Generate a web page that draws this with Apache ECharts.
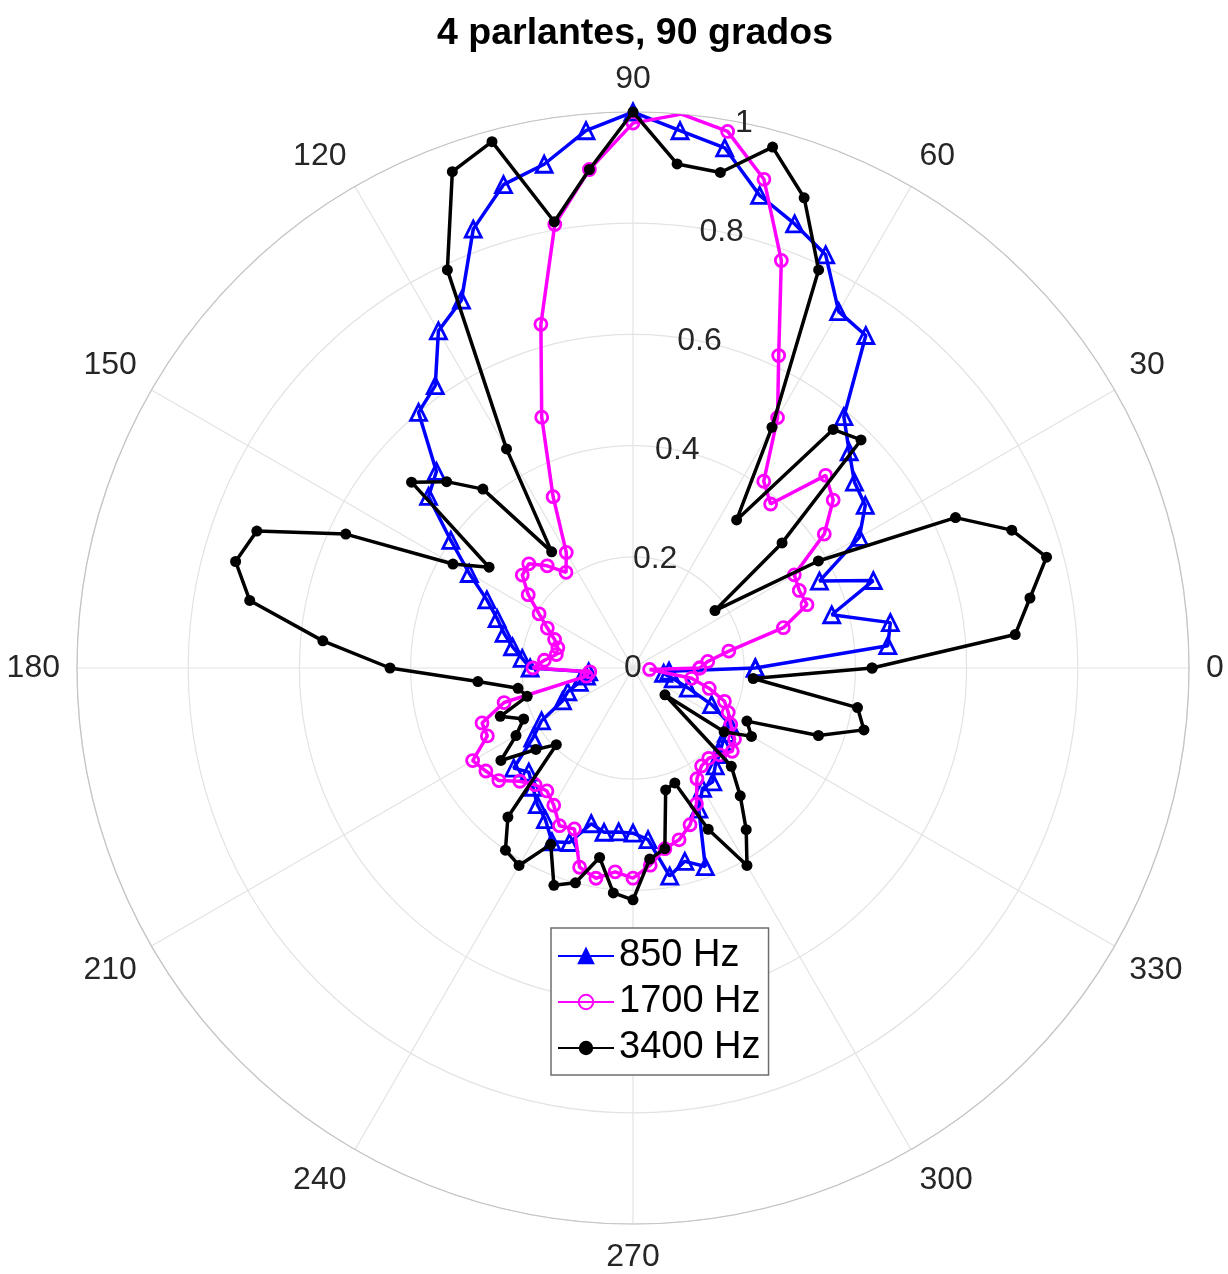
<!DOCTYPE html>
<html>
<head>
<meta charset="utf-8">
<script src="https://cdn.jsdelivr.net/npm/echarts@6/dist/echarts.min.js"></script>
<style>
  html, body { margin: 0; padding: 0; background: #fff; }
  #chart { width: 1228px; height: 1274px; }
</style>
</head>
<body>
<div id="chart"></div>
<script>
// angulos de medicion (grados)
var angles = [0, 5, 10, 15, 20, 25, 30, 35, 40, 45, 50, 55, 60, 65, 70, 75, 80, 85,
  90, 95, 100, 105, 110, 115, 120, 125, 130, 135, 140, 145, 150, 155, 160, 165, 170, 175,
  180, 185, 190, 195, 200, 205, 210, 215, 220, 225, 230, 235, 240, 245, 250, 255, 260, 265,
  270, 275, 280, 285, 290, 295, 300, 305, 310, 315, 320, 325, 330, 335, 340, 345, 350, 355];

var seriesNames = ['850 Hz', '1700 Hz', '3400 Hz'];

var r850 = [0.22, 0.46, 0.47, 0.37, 0.46, 0.37, 0.47, 0.51, 0.52, 0.55, 0.59, 0.73, 0.74, 0.82, 0.85, 0.88, 0.95, 0.97,
  1.0, 0.97, 0.92, 0.90, 0.84, 0.73, 0.70, 0.62, 0.60, 0.50, 0.48, 0.40, 0.34, 0.29, 0.26, 0.24, 0.22, 0.20,
  0.185, 0.08, 0.085, 0.10, 0.125, 0.14, 0.19, 0.22, 0.28, 0.265, 0.28, 0.30, 0.315, 0.345, 0.334, 0.29, 0.30, 0.296,
  0.297, 0.31, 0.38, 0.36, 0.38, 0.28, 0.25, 0.25, 0.23, 0.22, 0.21, 0.205, 0.20, 0.156, 0.106, 0.075, 0.056, 0.065];

var r1700 = [0.12, 0.135, 0.175, 0.28, 0.333, 0.33, 0.335, 0.42, 0.47, 0.49, 0.385, 0.41, 0.52, 0.62, 0.78, 0.91, 0.98, 1.0,
  0.98, 0.90, 0.81, 0.64, 0.48, 0.34, 0.24, 0.21, 0.24, 0.265, 0.26, 0.23, 0.195, 0.17, 0.15, 0.14, 0.14, 0.16,
  0.18, 0.078, 0.085, 0.24, 0.289, 0.289, 0.333, 0.323, 0.315, 0.288, 0.274, 0.27, 0.285, 0.313, 0.308, 0.371, 0.384, 0.368,
  0.378, 0.356, 0.33, 0.32, 0.30, 0.27, 0.23, 0.215, 0.212, 0.221, 0.233, 0.223, 0.203, 0.189, 0.175, 0.142, 0.107, 0.03];

var r3400 = [0.43, 0.69, 0.725, 0.77, 0.725, 0.64, 0.385, 0.18, 0.35, 0.58, 0.56, 0.325, 0.50, 0.79, 0.90, 0.97, 0.905, 0.91,
  1.0, 0.90, 0.815, 0.98, 0.95, 0.79, 0.455, 0.255, 0.42, 0.474, 0.52, 0.316, 0.374, 0.57, 0.72, 0.74, 0.70, 0.56,
  0.437, 0.28, 0.21, 0.197, 0.254, 0.217, 0.243, 0.29, 0.228, 0.195, 0.35, 0.40, 0.41, 0.35, 0.416, 0.40, 0.346, 0.406,
  0.417, 0.345, 0.33, 0.227, 0.22, 0.32, 0.41, 0.355, 0.30, 0.25, 0.075, 0.20, 0.246, 0.226, 0.355, 0.43, 0.41, 0.217];

var angleTicks = ['0', '30', '60', '90', '120', '150', '180', '210', '240', '270', '300', '330'];
var radiusTicks = ['0', '0.2', '0.4', '0.6', '0.8', '1'];

var FONT = 'Liberation Sans';
var CENTER = [633, 668];
var RADIUS = 556;

// curva cerrada: [r, angulo] y se repite el primer punto
function polarPairs(r) {
  var out = r.map(function (v, i) { return [v, angles[i]]; });
  out.push([r[0], 360]);
  return out;
}

var chart = echarts.init(document.getElementById('chart'));

chart.setOption({
  backgroundColor: '#fff',
  animation: false,
  title: {
    text: '4 parlantes, 90 grados',
    left: 432,
    top: 10,
    textStyle: { fontFamily: FONT, fontSize: 37.5, fontWeight: 'bold', color: '#000' }
  },
  legend: {
    orient: 'vertical',
    left: 551,
    top: 928,
    padding: [9, 8, 8, 6],
    itemWidth: 56,
    itemHeight: 18,
    itemGap: 8,
    borderColor: '#6e6e6e',
    borderWidth: 1.5,
    backgroundColor: '#fff',
    textStyle: { fontFamily: FONT, fontSize: 38, color: '#000' },
    data: [
      { name: seriesNames[0], itemStyle: { color: '#0000ff', borderColor: '#0000ff' } },
      { name: seriesNames[1] },
      { name: seriesNames[2] }
    ]
  },
  polar: [
    { center: CENTER, radius: RADIUS },
    { center: CENTER, radius: RADIUS }
  ],
  angleAxis: [
    {
      polarIndex: 0,
      type: 'value',
      min: 0,
      max: 360,
      interval: 30,
      startAngle: 0,
      clockwise: false,
      axisLine: { lineStyle: { color: '#c4c4c4', width: 1.2 } },
      axisTick: { show: false },
      axisLabel: {
        margin: 17,
        fontFamily: FONT,
        fontSize: 32,
        color: '#262626',
        formatter: function (v) { return v >= 360 ? '' : angleTicks[v / 30]; }
      },
      splitLine: { lineStyle: { color: '#e3e3e3', width: 1.2 } }
    },
    {
      // solo sirve para poner las etiquetas radiales a ~78 grados
      polarIndex: 1,
      type: 'value',
      min: 0,
      max: 360,
      startAngle: 78.5,
      clockwise: false,
      axisLine: { show: false },
      axisTick: { show: false },
      axisLabel: { show: false },
      splitLine: { show: false }
    }
  ],
  radiusAxis: [
    {
      polarIndex: 0,
      min: 0,
      max: 1,
      interval: 0.2,
      axisLine: { show: false },
      axisTick: { show: false },
      axisLabel: { show: false },
      splitLine: { lineStyle: { color: '#e3e3e3', width: 1.2 } }
    },
    {
      polarIndex: 1,
      min: 0,
      max: 1,
      interval: 0.2,
      z: 10,
      axisLine: { show: false },
      axisTick: { show: false },
      splitLine: { show: false },
      axisLabel: {
        margin: 0,
        align: 'center',
        verticalAlign: 'middle',
        fontFamily: FONT,
        fontSize: 32,
        color: '#262626',
        formatter: function (v) { return radiusTicks[Math.round(v / 0.2)]; }
      }
    }
  ],
  series: [
    {
      name: seriesNames[0],
      type: 'line',
      coordinateSystem: 'polar',
      polarIndex: 0,
      data: polarPairs(r850),
      symbol: 'triangle',
      symbolSize: 16,
      lineStyle: { color: '#0000ff', width: 3.5 },
      itemStyle: { color: 'rgba(0,0,0,0)', borderColor: '#0000ff', borderWidth: 2.8 },
      z: 3
    },
    {
      name: seriesNames[1],
      type: 'line',
      coordinateSystem: 'polar',
      polarIndex: 0,
      data: polarPairs(r1700),
      symbol: 'circle',
      symbolSize: 12,
      lineStyle: { color: '#ff00ff', width: 3.5 },
      itemStyle: { color: 'rgba(0,0,0,0)', borderColor: '#ff00ff', borderWidth: 2.8 },
      z: 4
    },
    {
      name: seriesNames[2],
      type: 'line',
      coordinateSystem: 'polar',
      polarIndex: 0,
      data: polarPairs(r3400),
      symbol: 'circle',
      symbolSize: 11,
      lineStyle: { color: '#000', width: 3.5 },
      itemStyle: { color: '#000' },
      z: 5
    }
  ]
});
</script>
</body>
</html>
